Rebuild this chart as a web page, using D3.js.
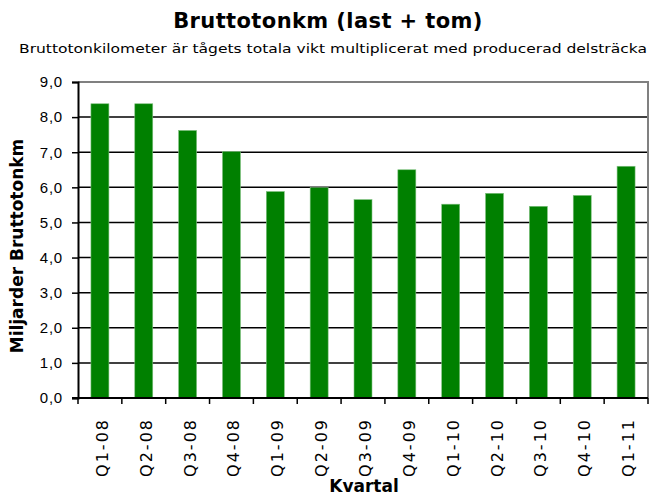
<!DOCTYPE html>
<html>
<head>
<meta charset="utf-8">
<script src="https://cdn.jsdelivr.net/npm/d3@7"></script>
<style>
  body { margin: 0; background: #fff; }
  svg { font-family: 'DejaVu Sans', Verdana, sans-serif; }
</style>
</head>
<body>
<svg id="chart" width="650" height="495"></svg>
<script>
// data
const quarters = ['Q1-08', 'Q2-08', 'Q3-08', 'Q4-08', 'Q1-09', 'Q2-09', 'Q3-09', 'Q4-09', 'Q1-10', 'Q2-10', 'Q3-10', 'Q4-10', 'Q1-11']
const values = [8.38, 8.38, 7.62, 7.02, 5.88, 5.99, 5.65, 6.50, 5.52, 5.83, 5.46, 5.77, 6.60]
const yTicks = [0, 1, 2, 3, 4, 5, 6, 7, 8, 9]

const titleText = 'Bruttotonkm (last + tom)'
const subtitleText = 'Bruttotonkilometer är tågets totala vikt multiplicerat med producerad delsträcka'
const yLabel = 'Miljarder Bruttotonkm'
const xLabel = 'Kvartal'

// plot area edges
const plotL = 78, plotR = 648, plotT = 82, plotB = 398

const svg = d3.select('#chart')

const x = d3.scaleBand()
            .domain(quarters)
            .range([plotL, plotR])
const y = d3.scaleLinear()
            .domain([0, 9])
            .range([plotB, plotT])

// gridlines
svg.append('g')
   .selectAll('line')
   .data(yTicks.filter(t => t > 0 && t < 9))
   .enter()
   .append('line')
   .attr('x1', plotL)
   .attr('x2', plotR)
   .attr('y1', t => y(t))
   .attr('y2', t => y(t))
   .style('stroke', '#000')
   .style('stroke-width', 1.5)

// plot border top + right (gray)
svg.append('path')
   .attr('d', `M${plotL},${y(9)}H${plotR}V${plotB}`)
   .style('fill', 'none')
   .style('stroke', '#808080')
   .style('stroke-width', 2)

// bars
const barW = x.bandwidth() * 0.41
svg.append('g')
   .selectAll('rect')
   .data(values)
   .enter()
   .append('rect')
   .attr('x', (v, i) => x(quarters[i]) + (x.bandwidth() - barW) / 2)
   .attr('y', v => y(v))
   .attr('width', barW)
   .attr('height', v => y(0) - y(v))
   .attr('fill', '#008000')
   .style('stroke', '#7fc07f')
   .style('stroke-width', 0.6)

// y axis
const yAxis = svg.append('g')
                 .attr('transform', `translate(${plotL},0)`)
                 .call(d3.axisLeft(y)
                         .tickValues(yTicks)
                         .tickSize(6)
                         .tickPadding(9)
                         .tickFormat(d => d3.format('.1f')(d).replace('.', ',')))
yAxis.select('.domain').style('stroke-width', 2)
yAxis.selectAll('.tick line').style('stroke-width', 1.5)
yAxis.selectAll('text')
     .style('font-size', '15px')
     .style('letter-spacing', '0.8px')
     .style('fill', '#000')

// x axis
const xTickPos = quarters.map(q => x(q)).concat([plotR])
const xAxis = svg.append('g')
xAxis.append('line')
     .attr('x1', plotL - 6)
     .attr('x2', plotR)
     .attr('y1', plotB)
     .attr('y2', plotB)
     .style('stroke', '#000')
     .style('stroke-width', 2)
xAxis.selectAll('.xtick')
     .data(xTickPos)
     .enter()
     .append('line')
     .attr('x1', d => d)
     .attr('x2', d => d)
     .attr('y1', plotB)
     .attr('y2', plotB + 6)
     .style('stroke', '#000')
     .style('stroke-width', 1.5)
xAxis.selectAll('text')
     .data(quarters)
     .enter()
     .append('text')
     .text(d => d)
     .attr('transform', d => `translate(${x(d) + x.bandwidth() / 2 + 8},${plotB + 20}) rotate(-90)`)
     .attr('text-anchor', 'end')
     .style('font-size', '16px')
     .style('letter-spacing', '2px')
     .style('fill', '#000')

// titles
svg.append('text')
   .text(titleText)
   .attr('x', 328)
   .attr('y', 28)
   .attr('text-anchor', 'middle')
   .style('font-size', '21px')
   .style('letter-spacing', '0.4px')
   .style('font-weight', 'bold')

svg.append('text')
   .text(subtitleText)
   .attr('x', 333)
   .attr('y', 53)
   .attr('text-anchor', 'middle')
   .attr('textLength', 628)
   .attr('lengthAdjust', 'spacingAndGlyphs')
   .style('font-size', '13px')

svg.append('text')
   .text(yLabel)
   .attr('transform', `translate(23,246) rotate(-90)`)
   .attr('text-anchor', 'middle')
   .style('font-size', '17px')
   .style('font-weight', 'bold')

svg.append('text')
   .text(xLabel)
   .attr('x', 364)
   .attr('y', 492)
   .attr('text-anchor', 'middle')
   .style('font-size', '17px')
   .style('font-weight', 'bold')
</script>
</body>
</html>
